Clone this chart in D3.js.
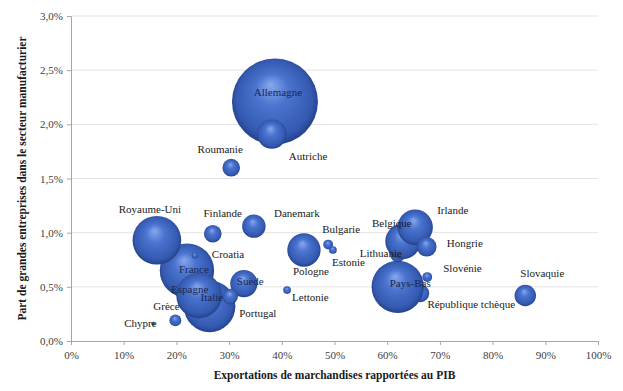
<!DOCTYPE html>
<head>
  <meta charset="utf-8">
  <script src="https://d3js.org/d3.v7.min.js"></script>
  <style>
    body { margin:0; background:#fff; }
    text { font-family: "Liberation Serif", "Times New Roman", serif; }
  </style>
</head>
<body>
<script>

  // pays (dans l'ordre de dessin), exportations / PIB (%), part grandes entreprises (%), taille bulle
  var pays = ["Allemagne","France","Italie","République tchèque","Pays-Bas","Royaume-Uni","Espagne",
              "Lithuanie","Belgique","Irlande","Pologne","Autriche","Suède","Danemark","Slovaquie",
              "Hongrie","Roumanie","Finlande","Portugal","Grèce","Bulgarie","Slovénie","Estonie",
              "Lettonie","Croatia","Chypre"];
  var exportPIB = [38.7, 22.0, 26.3, 66.3, 62.0, 16.3, 24.3,
                   62.0, 63.0, 65.3, 44.2, 38.1, 32.8, 34.7, 86.2,
                   67.5, 30.4, 26.9, 30.2, 19.8, 48.8, 67.6, 49.7,
                   41.0, 23.5, 15.6];
  var partGE = [2.21, 0.65, 0.32, 0.44, 0.50, 0.93, 0.42,
                0.80, 0.92, 1.05, 0.84, 1.91, 0.53, 1.06, 0.42,
                0.87, 1.60, 0.99, 0.41, 0.19, 0.89, 0.59, 0.84,
                0.47, 0.79, 0.16];
  var taille = [100, 40, 36, 4.2, 37, 32, 28,
                3.3, 17, 17, 15, 11.6, 10, 7.4, 6.2,
                5.2, 4.2, 4.2, 3.3, 1.9, 1.3, 1.3, 0.8,
                0.8, 0.5, 0.2];

  var xTicks = [0,10,20,30,40,50,60,70,80,90,100];
  var yTicks = [0,0.5,1,1.5,2,2.5,3];

  // placement des étiquettes (décalage en px depuis le centre de la bulle)
  var labelPos = {
    "Allemagne":[3,-6,"middle"], "Autriche":[17,26,"start"], "Roumanie":[-11,-15,"middle"],
    "Royaume-Uni":[-7,-27,"middle"], "Finlande":[10,-17,"middle"], "Danemark":[43,-9,"middle"],
    "Croatia":[17,3,"start"], "France":[-8,2,"start"], "Pologne":[-11,25,"start"],
    "Bulgarie":[-6,-12,"start"], "Estonie":[-1,16,"start"], "Suède":[-7,1,"start"],
    "Lettonie":[5,11,"start"], "Espagne":[-28,-3,"start"], "Italie":[-9,-5,"start"],
    "Portugal":[9,20,"start"], "Grèce":[-22,-10,"start"], "Chypre":[-29,3,"start"],
    "Belgique":[-31,-14,"start"], "Irlande":[22,-13,"start"], "Lithuanie":[-38,3,"start"],
    "Hongrie":[20,0,"start"], "Slovénie":[16,-5,"start"], "Pays-Bas":[-8,0,"start"],
    "République tchèque":[7,15,"start"], "Slovaquie":[-5,-19,"start"]
  };

  var width = 623, height = 391;
  var margin = {top:16, right:25, bottom:50, left:71};
  var police = '"Liberation Serif", "Times New Roman", serif';

  var svg = d3.select("body").append("svg")
    .attr("width", width)
    .attr("height", height);

  var x = d3.scaleLinear().domain([0,100]).range([margin.left, width - margin.right]);
  var y = d3.scaleLinear().domain([0,3]).range([height - margin.bottom, margin.top]);
  var r = d3.scaleSqrt().domain([0,100]).range([0,43]);

  var defs = svg.append("defs");
  var grad = defs.append("radialGradient")
    .attr("id", "bulle")
    .attr("cx", "0.5").attr("cy", "0.5").attr("r", "0.55")
    .attr("fx", "0.45").attr("fy", "0.3");
  grad.append("stop").attr("offset", "0%").attr("stop-color", "#86a8ec");
  grad.append("stop").attr("offset", "35%").attr("stop-color", "#4a74d0");
  grad.append("stop").attr("offset", "80%").attr("stop-color", "#3459b0");
  grad.append("stop").attr("offset", "100%").attr("stop-color", "#1c3778");

  // grille
  svg.append("g").selectAll("line")
    .data(yTicks.slice(1))
    .enter().append("line")
    .attr("x1", x(0)).attr("x2", x(100))
    .attr("y1", d => y(d)).attr("y2", d => y(d))
    .attr("stroke", "#e3e3e3").attr("stroke-width", 1);

  var fmt = d => d.toFixed(1).replace(".", ",") + "%";

  var yAxis = svg.append("g")
    .attr("transform", "translate(" + x(0) + ",0)")
    .call(d3.axisLeft(y).tickValues(yTicks).tickFormat(fmt).tickSize(4).tickPadding(4));

  var xAxis = svg.append("g")
    .attr("transform", "translate(0," + y(0) + ")")
    .call(d3.axisBottom(x).tickValues(xTicks).tickFormat(d => d + "%").tickSize(4).tickPadding(6));

  [xAxis, yAxis].forEach(function(a){
    a.attr("font-family", police);
    a.select(".domain").attr("stroke", "#a6a6a6");
    a.selectAll(".tick line").attr("stroke", "#a6a6a6");
    a.selectAll(".tick text")
      .attr("fill", "#404040")
      .attr("font-family", police)
      .style("font-size", "11px");
  });

  var data = pays.map(function(p, i){
    return {pays:p, x:exportPIB[i], y:partGE[i], s:taille[i]};
  });

  svg.append("g").selectAll("circle")
    .data(data)
    .enter().append("circle")
    .attr("cx", d => x(d.x))
    .attr("cy", d => y(d.y))
    .attr("r", d => r(d.s))
    .attr("fill", "url(#bulle)");

  svg.append("g").selectAll("text")
    .data(data)
    .enter().append("text")
    .attr("x", d => x(d.x) + labelPos[d.pays][0])
    .attr("y", d => y(d.y) + labelPos[d.pays][1])
    .attr("text-anchor", d => labelPos[d.pays][2])
    .attr("font-family", police)
    .attr("fill", d => r(d.s) > 12 && Math.abs(labelPos[d.pays][1]) < 12 ? "#1b2850" : "#1a1a1a")
    .style("font-size", "11px")
    .text(d => d.pays);

  svg.append("text")
    .attr("x", (x(0) + x(100)) / 2)
    .attr("y", 379)
    .attr("text-anchor", "middle")
    .attr("font-family", police)
    .attr("font-weight", "bold")
    .style("font-size", "11.5px")
    .attr("fill", "#1a1a1a")
    .text("Exportations de marchandises rapportées au PIB");

  svg.append("text")
    .attr("transform", "translate(26," + ((y(0) + y(3)) / 2) + ") rotate(-90)")
    .attr("text-anchor", "middle")
    .attr("font-family", police)
    .attr("font-weight", "bold")
    .style("font-size", "11.5px")
    .attr("fill", "#1a1a1a")
    .text("Part de grandes entreprises dans le secteur manufacturier");

</script>
</body>
